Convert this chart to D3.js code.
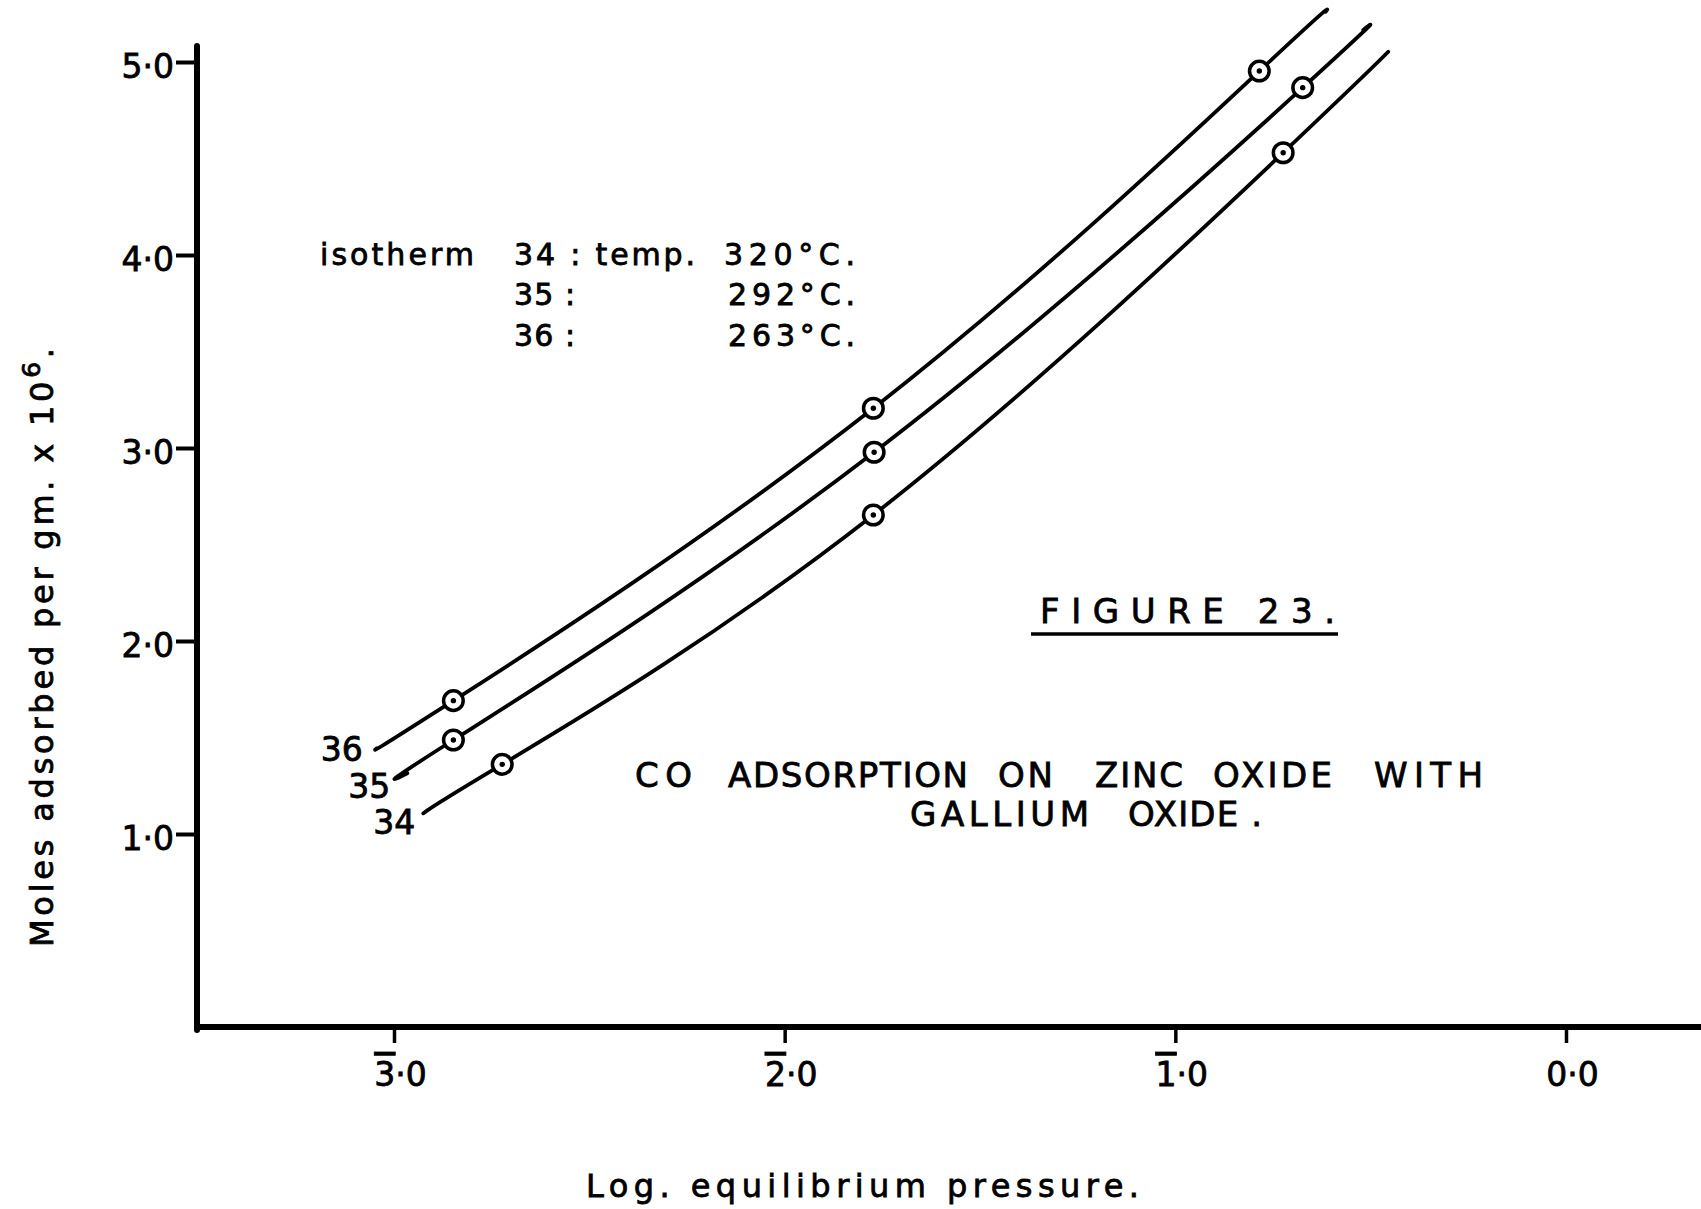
<!DOCTYPE html>
<html>
<head>
<meta charset="utf-8">
<script src="https://cdn.jsdelivr.net/npm/d3@7"></script>
<style>
  html, body { margin: 0; padding: 0; background: #fff; }
  svg { display: block; }
  text { font-family: "DejaVu Sans", sans-serif; fill: #000; stroke: #000; stroke-width: 0.8px; }
</style>
</head>
<body>
<svg id="chart" width="1701" height="1209"></svg>
<script>
// CO adsorption isotherms on zinc oxide with gallium oxide.
// x: log equilibrium pressure (bar notation), y: moles adsorbed per gm x 10^6

const isothermIds = ["34", "35", "36"];
const isothermTemps = ["320°C.", "292°C.", "263°C."];

// Measured points for each isotherm
const logP34 = [-2.723, -1.773, -0.724];
const ads34  = [1.361, 2.653, 4.530];
const logP35 = [-2.848, -1.771, -0.674];
const ads35  = [1.487, 2.978, 4.867];
const logP36 = [-2.848, -1.773, -0.785];
const ads36  = [1.691, 3.206, 4.953];

// Where each smoothed curve begins and ends (logP, adsorbed)
const curveStart34 = [-2.925, 1.107];
const curveEnd34   = [-0.455, 5.053];
const curveStart35 = [-2.966, 1.315];
const curveEnd35   = [-0.519, 5.166];
const curveStart36 = [-3.044, 1.444];
const curveEnd36   = [-0.615, 5.261];

// Axis ticks: characteristic (barred) and mantissa of the log
const xTickValues = [-3, -2, -1, 0];
const xTickChar   = ["3", "2", "1", "0"];
const xTickBarred = [true, true, true, false];
const yTickValues = [1, 2, 3, 4, 5];
const yTickLabels = ["1·0", "2·0", "3·0", "4·0", "5·0"];

// Title words
const titleLine1 = ["CO", "ADSORPTION", "ON", "ZINC", "OXIDE", "WITH"];
const titleLine2 = ["GALLIUM", "OXIDE ."];

const svg = d3.select("#chart");

const x = d3.scaleLinear().domain([-3, 0]).range([394, 1566]);
const y = d3.scaleLinear().domain([0, 5]).range([1027, 62]);

const axisLeftX = 197;
const axisTopY = 46;
const axisRightX = 1701;
const ink = "#000";

// ---- x axis (ticks + labels) ----
const gx = svg.append("g")
  .attr("transform", `translate(0,${y(0)})`)
  .call(d3.axisBottom(x).tickValues(xTickValues).tickSize(16).tickFormat(""));
gx.select(".domain").remove();
gx.selectAll(".tick line").attr("stroke", ink).attr("stroke-width", 3.5);
gx.selectAll(".tick text").remove();
gx.selectAll(".tick").each(function (d, i) {
  const t = d3.select(this).append("text")
    .attr("x", 6).attr("y", 59)
    .attr("text-anchor", "middle")
    .style("font-size", "33px");
  const c = t.append("tspan").text(xTickChar[i]);
  if (xTickBarred[i]) c.style("text-decoration", "overline");
  t.append("tspan").text("·0");
});

// ---- y axis (ticks + labels) ----
const gy = svg.append("g")
  .attr("transform", `translate(${axisLeftX},0)`)
  .call(d3.axisLeft(y).tickValues(yTickValues).tickSize(21).tickPadding(2)
    .tickFormat((d, i) => yTickLabels[i]));
gy.select(".domain").remove();
gy.selectAll(".tick line").attr("stroke", ink).attr("stroke-width", 4);
gy.selectAll(".tick text")
  .attr("dy", 15)
  .style("font-size", "33px")
  .attr("fill", ink);

// axis lines
svg.append("line")
  .attr("x1", axisLeftX).attr("x2", axisLeftX)
  .attr("y1", axisTopY).attr("y2", y(0) + 3)
  .attr("stroke", ink).attr("stroke-width", 6).attr("stroke-linecap", "round");
svg.append("line")
  .attr("x1", axisLeftX - 3).attr("x2", axisRightX)
  .attr("y1", y(0)).attr("y2", y(0))
  .attr("stroke", ink).attr("stroke-width", 6);

// axis titles
svg.append("text")
  .attr("x", 586).attr("y", 1197)
  .attr("textLength", 553).attr("lengthAdjust", "spacing")
  .style("font-size", "32px")
  .text("Log. equilibrium pressure.");

const yTitle = svg.append("text")
  .attr("transform", "translate(53,947) rotate(-90)")
  .attr("textLength", 599).attr("lengthAdjust", "spacing")
  .style("font-size", "32px");
yTitle.append("tspan").text("Moles adsorbed per gm. x 10");
yTitle.append("tspan").attr("dy", -13).style("font-size", "25px").text("6");
yTitle.append("tspan").attr("dy", 13).text(".");

// ---- isotherm curves ----
const series = [
  { id: "34", xs: logP34, ys: ads34, start: curveStart34, end: curveEnd34, lab: [-8, 21] },
  { id: "35", xs: logP35, ys: ads35, start: curveStart35, end: curveEnd35, lab: [-17, 25] },
  { id: "36", xs: logP36, ys: ads36, start: curveStart36, end: curveEnd36, lab: [-14, 13] }
];

const line = d3.line()
  .x(d => x(d[0]))
  .y(d => y(d[1]))
  .curve(d3.curveNatural);

series.forEach(s => {
  const pts = s.xs.map((v, i) => [v, s.ys[i]]);
  const path = [s.start, ...pts, s.end];
  svg.append("path")
    .attr("d", line(path))
    .attr("fill", "none")
    .attr("stroke", ink)
    .attr("stroke-width", 3.8)
    .attr("stroke-linecap", "round");

  const g = svg.append("g");
  g.selectAll("circle.ring").data(pts).join("circle")
    .attr("class", "ring")
    .attr("cx", d => x(d[0])).attr("cy", d => y(d[1]))
    .attr("r", 9.8)
    .attr("fill", "#fff").attr("stroke", ink).attr("stroke-width", 3.5);
  g.selectAll("circle.dot").data(pts).join("circle")
    .attr("class", "dot")
    .attr("cx", d => x(d[0])).attr("cy", d => y(d[1]))
    .attr("r", 2.7)
    .attr("fill", ink);

  // curve number at the lower end of the line
  svg.append("text")
    .attr("x", x(s.start[0]) + s.lab[0])
    .attr("y", y(s.start[1]) + s.lab[1])
    .attr("text-anchor", "end")
    .style("font-size", "33px")
    .text(s.id);
});

// ---- legend ----
const legendBaselines = [265, 305, 346];
svg.append("text")
  .attr("x", 320).attr("y", legendBaselines[0])
  .attr("textLength", 154).attr("lengthAdjust", "spacing")
  .style("font-size", "30px")
  .text("isotherm");

const legendRows = svg.append("g").selectAll("g")
  .data(isothermIds.map((id, i) => ({ id, temp: isothermTemps[i], i })))
  .join("g");

legendRows.append("text")
  .attr("x", 514).attr("y", d => legendBaselines[d.i])
  .attr("textLength", d => d.i === 0 ? 181 : 61)
  .attr("lengthAdjust", "spacing")
  .style("font-size", "30px")
  .text(d => d.i === 0 ? `${d.id} : temp.` : `${d.id} :`);

legendRows.append("text")
  .attr("x", d => d.i === 0 ? 724 : 728)
  .attr("y", d => legendBaselines[d.i])
  .attr("textLength", d => d.i === 0 ? 131 : 127)
  .attr("lengthAdjust", "spacing")
  .style("font-size", "30px")
  .text(d => d.temp);

// ---- figure caption ----
svg.append("text")
  .attr("x", 1040).attr("y", 623)
  .attr("textLength", 295).attr("lengthAdjust", "spacing")
  .style("font-size", "34px")
  .text("FIGURE 23.");
svg.append("line")
  .attr("x1", 1031).attr("x2", 1338)
  .attr("y1", 634).attr("y2", 634)
  .attr("stroke", ink).attr("stroke-width", 3.5);

const line1X = [635, 728, 998, 1095, 1213, 1374];
const line1W = [57, 240, 55, 88, 119, 109];
svg.append("g").selectAll("text")
  .data(titleLine1)
  .join("text")
  .attr("x", (d, i) => line1X[i]).attr("y", 787)
  .attr("textLength", (d, i) => line1W[i]).attr("lengthAdjust", "spacing")
  .style("font-size", "34px")
  .text(d => d);

const line2X = [910, 1128];
const line2W = [179, 134];
svg.append("g").selectAll("text")
  .data(titleLine2)
  .join("text")
  .attr("x", (d, i) => line2X[i]).attr("y", 826)
  .attr("textLength", (d, i) => line2W[i]).attr("lengthAdjust", "spacing")
  .style("font-size", "34px")
  .text(d => d);
</script>
</body>
</html>
